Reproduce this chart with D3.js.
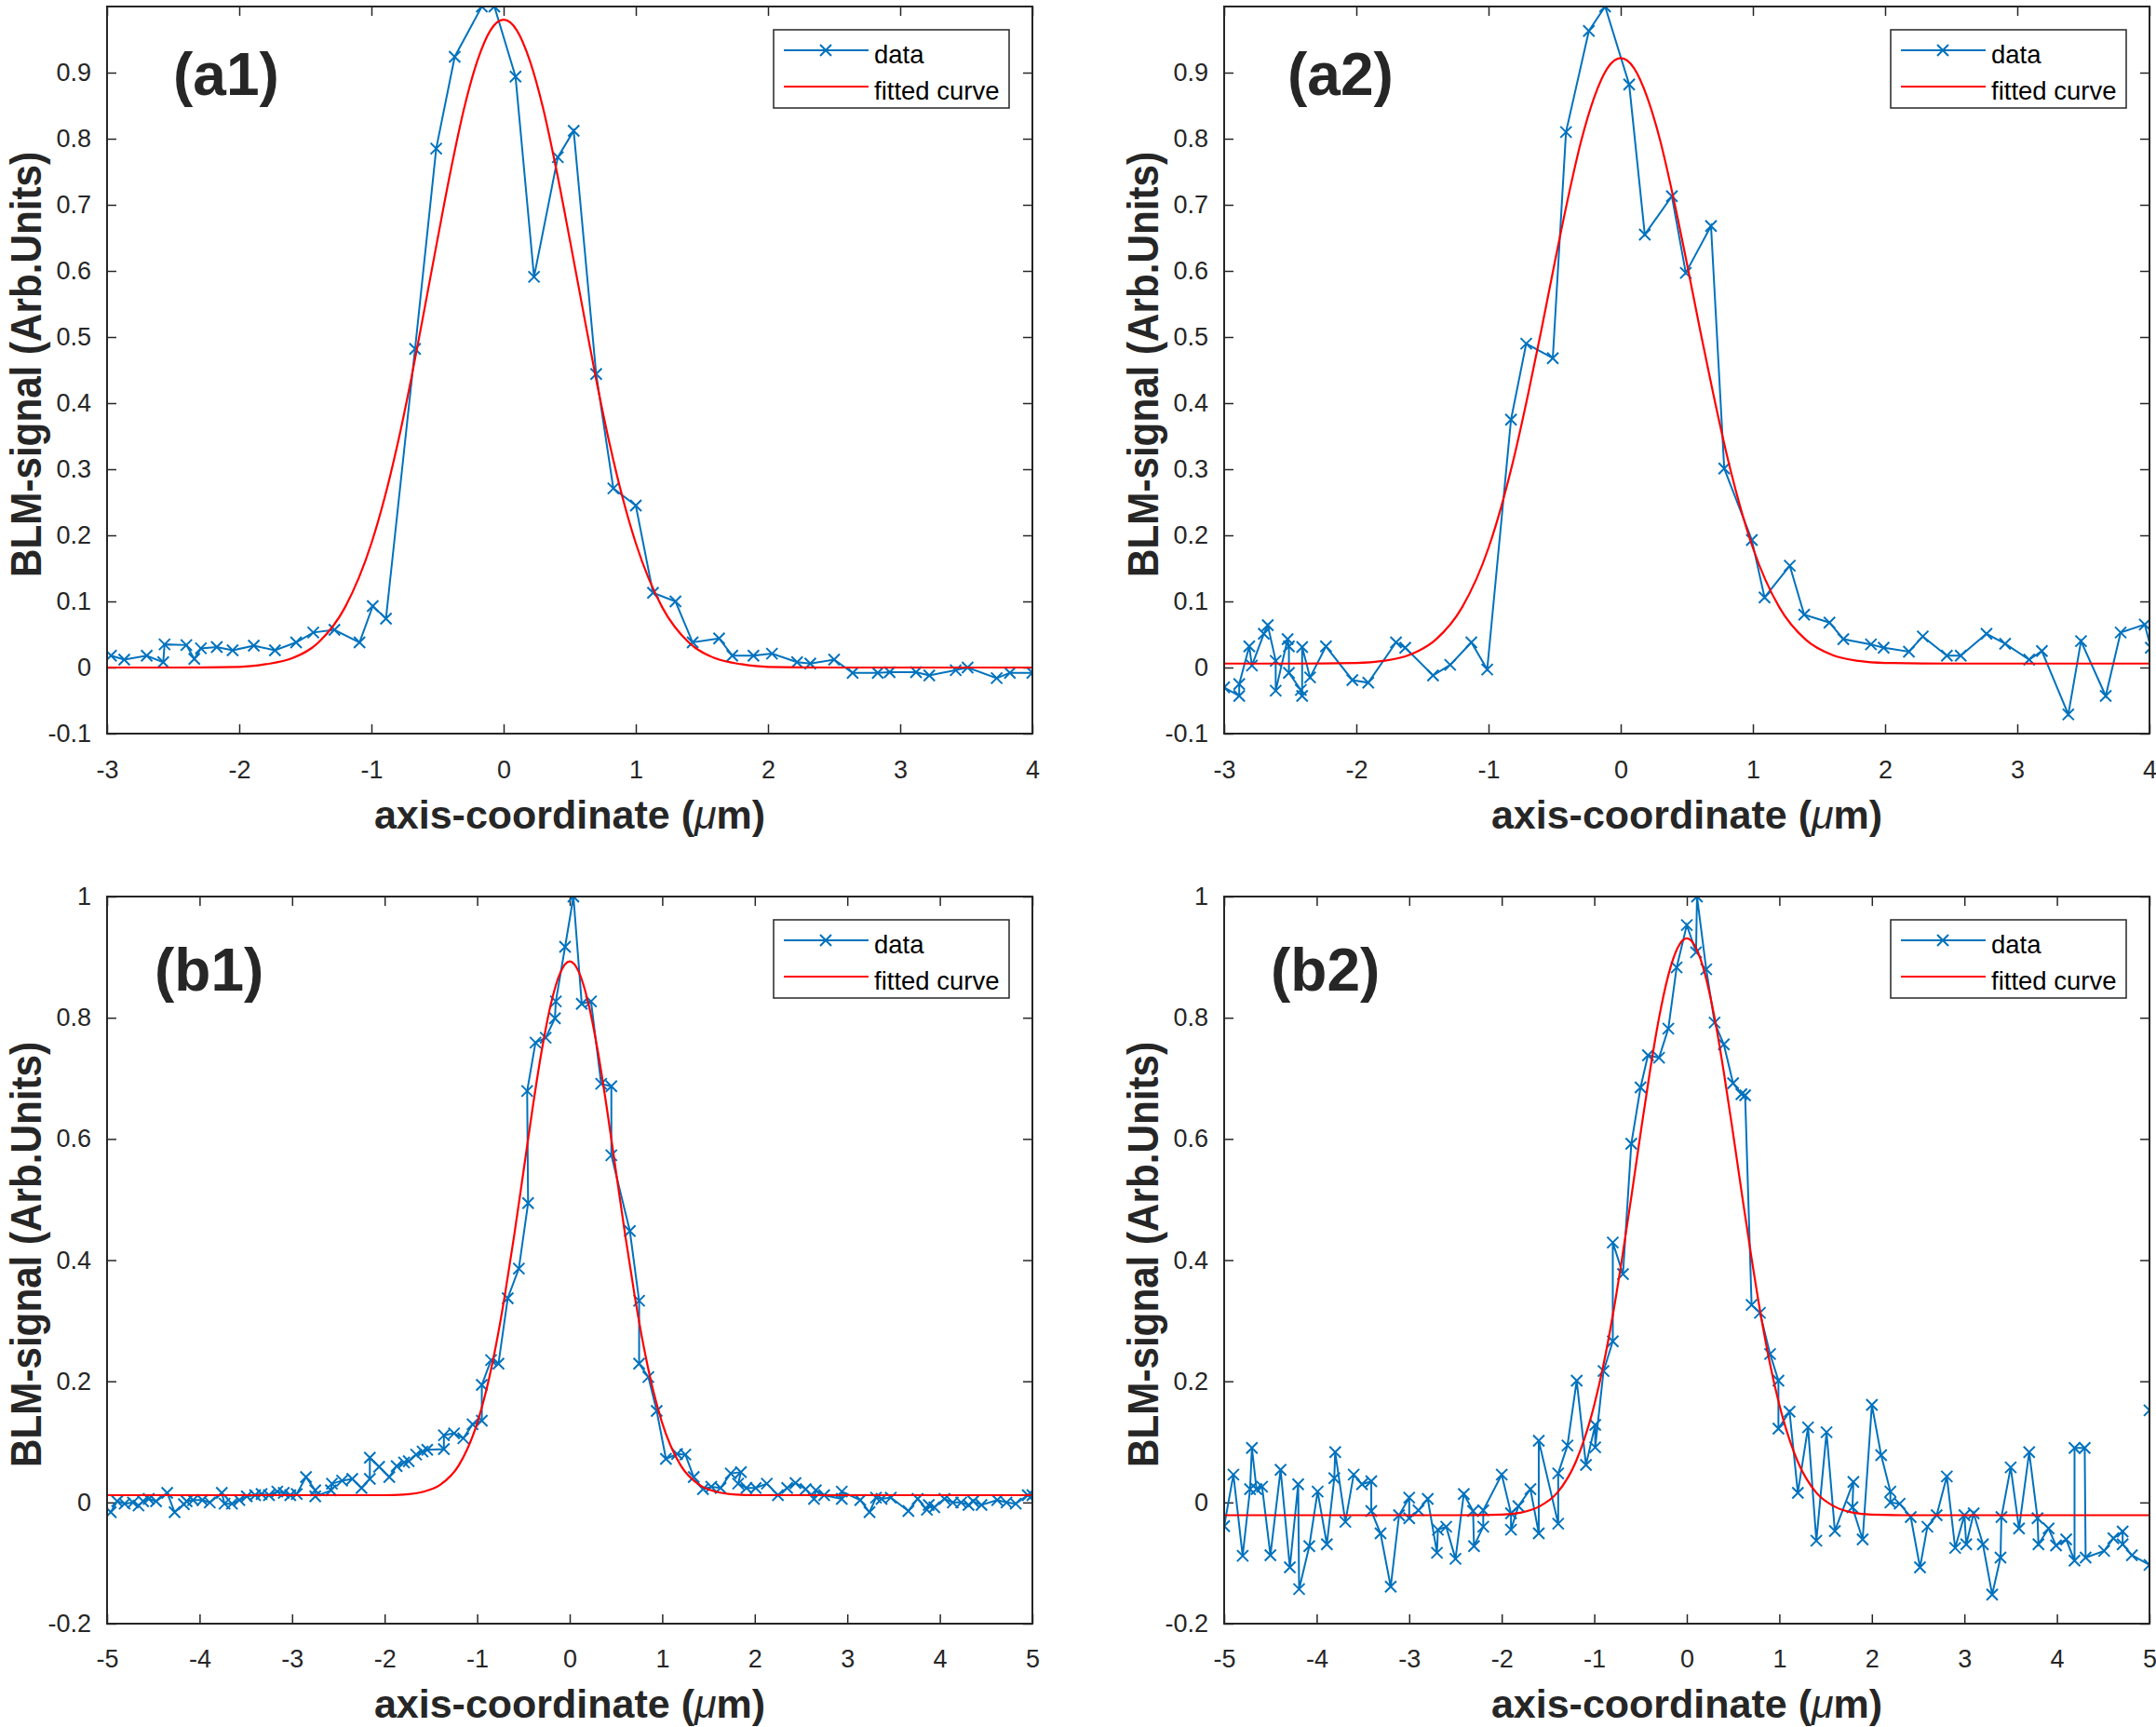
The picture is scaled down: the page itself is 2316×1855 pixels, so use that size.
<!DOCTYPE html>
<html>
<head>
<meta charset="utf-8">
<script src="https://cdn.jsdelivr.net/npm/d3@7"></script>
<style>
  body { margin: 0; background: #fff; }
  svg { display: block; }
</style>
</head>
<body>
<svg id="chart" width="2316" height="1855"></svg>
<script>
// tick values
const topXTicks = [-3, -2, -1, 0, 1, 2, 3, 4];
const topYTicks = [-0.1, 0, 0.1, 0.2, 0.3, 0.4, 0.5, 0.6, 0.7, 0.8, 0.9];
const bottomXTicks = [-5, -4, -3, -2, -1, 0, 1, 2, 3, 4, 5];
const bottomYTicks = [-0.2, 0, 0.2, 0.4, 0.6, 0.8, 1];

// measured profiles [x, signal]
const a1Data = [[-2.97,0.018],[-2.87,0.012],[-2.70,0.018],[-2.575,0.008],[-2.565,0.035],[-2.40,0.034],[-2.34,0.013],[-2.29,0.029],[-2.17,0.031],[-2.05,0.026],[-1.89,0.033],[-1.73,0.026],[-1.57,0.038],[-1.44,0.053],[-1.28,0.057],[-1.09,0.038],[-0.99,0.093],[-0.89,0.074],[-0.67,0.482],[-0.51,0.785],[-0.37,0.924],[-0.165,1.0],[-0.07,1.0],[0.09,0.894],[0.23,0.591],[0.41,0.772],[0.53,0.812],[0.70,0.444],[0.83,0.271],[1.00,0.245],[1.13,0.113],[1.30,0.100],[1.43,0.038],[1.63,0.044],[1.73,0.018],[1.89,0.018],[2.03,0.021],[2.22,0.008],[2.32,0.006],[2.50,0.012],[2.64,-0.008],[2.83,-0.008],[2.92,-0.007],[3.12,-0.007],[3.22,-0.012],[3.42,-0.004],[3.51,0],[3.73,-0.016],[3.83,-0.008],[4.0,-0.008]];

const a2Data = [[-3.0,-0.030],[-2.886,-0.043],[-2.886,-0.025],[-2.81,0.032],[-2.79,0.003],[-2.70,0.051],[-2.67,0.064],[-2.61,0.010],[-2.61,-0.035],[-2.52,0.043],[-2.51,0.032],[-2.51,-0.008],[-2.42,-0.034],[-2.41,-0.043],[-2.41,0.031],[-2.35,-0.015],[-2.23,0.032],[-2.03,-0.019],[-1.91,-0.023],[-1.70,0.038],[-1.63,0.030],[-1.42,-0.012],[-1.29,0.004],[-1.13,0.038],[-1.01,-0.003],[-0.83,0.375],[-0.715,0.490],[-0.514,0.468],[-0.414,0.810],[-0.241,0.963],[-0.118,1.0],[0.064,0.882],[0.182,0.655],[0.387,0.713],[0.492,0.597],[0.683,0.668],[0.783,0.301],[0.992,0.193],[1.088,0.106],[1.279,0.154],[1.388,0.080],[1.579,0.068],[1.684,0.043],[1.893,0.035],[1.989,0.030],[2.18,0.024],[2.285,0.047],[2.467,0.018],[2.572,0.018],[2.767,0.051],[2.908,0.036],[3.09,0.012],[3.186,0.025],[3.386,-0.071],[3.482,0.040],[3.669,-0.043],[3.782,0.053],[3.964,0.065],[4.01,0.030]];

const b1Data = [[-4.96,-0.016],[-4.89,0.002],[-4.81,-0.002],[-4.72,0],[-4.66,-0.005],[-4.61,0.002],[-4.55,0.006],[-4.47,0.002],[-4.35,0.016],[-4.27,-0.016],[-4.17,-0.003],[-4.14,0.002],[-4.07,0.004],[-3.97,0.004],[-3.89,0],[-3.76,0.016],[-3.73,-0.002],[-3.65,-0.002],[-3.57,0.004],[-3.49,0.010],[-3.40,0.012],[-3.33,0.014],[-3.25,0.012],[-3.16,0.018],[-3.09,0.016],[-3.02,0.012],[-2.95,0.014],[-2.85,0.042],[-2.75,0.020],[-2.75,0.010],[-2.58,0.020],[-2.57,0.031],[-2.46,0.036],[-2.35,0.039],[-2.25,0.024],[-2.16,0.039],[-2.16,0.074],[-2.06,0.059],[-1.95,0.042],[-1.87,0.060],[-1.79,0.066],[-1.74,0.068],[-1.66,0.079],[-1.59,0.084],[-1.54,0.087],[-1.36,0.088],[-1.36,0.111],[-1.25,0.114],[-1.15,0.106],[-1.05,0.129],[-0.95,0.135],[-0.95,0.194],[-0.85,0.235],[-0.77,0.229],[-0.67,0.337],[-0.55,0.386],[-0.45,0.494],[-0.46,0.679],[-0.37,0.759],[-0.26,0.767],[-0.16,0.799],[-0.15,0.827],[-0.05,0.917],[0.04,1.0],[0.13,0.823],[0.23,0.827],[0.34,0.691],[0.45,0.687],[0.45,0.573],[0.65,0.448],[0.75,0.333],[0.75,0.229],[0.85,0.207],[0.94,0.151],[1.04,0.072],[1.16,0.080],[1.25,0.079],[1.34,0.042],[1.44,0.022],[1.53,0.026],[1.63,0.024],[1.74,0.048],[1.85,0.050],[1.82,0.031],[1.91,0.024],[2.01,0.024],[2.13,0.031],[2.25,0.012],[2.35,0.024],[2.44,0.032],[2.55,0.022],[2.64,0.006],[2.66,0.020],[2.75,0.012],[2.94,0.006],[2.94,0.018],[3.14,0.004],[3.24,-0.016],[3.31,0.008],[3.37,0.006],[3.47,0.008],[3.66,-0.014],[3.76,0.006],[3.86,-0.012],[3.88,-0.004],[3.94,-0.008],[4.05,0.006],[4.14,0],[4.23,0],[4.31,-0.004],[4.36,0.002],[4.45,-0.004],[4.62,0.004],[4.72,0],[4.82,-0.002],[4.95,0.012],[5.0,0.012]];

const b2Data = [[-5.0,-0.039],[-4.90,0.046],[-4.80,-0.088],[-4.72,0.022],[-4.70,0.090],[-4.65,0.022],[-4.59,0.026],[-4.50,-0.087],[-4.39,0.054],[-4.29,-0.107],[-4.20,0.030],[-4.19,-0.143],[-4.08,-0.072],[-3.99,0.018],[-3.89,-0.069],[-3.81,0.040],[-3.80,0.083],[-3.69,-0.032],[-3.60,0.046],[-3.51,0.030],[-3.41,0.035],[-3.41,-0.014],[-3.31,-0.051],[-3.20,-0.139],[-3.11,-0.021],[-3.00,0.008],[-3.00,-0.026],[-2.90,-0.013],[-2.80,0.006],[-2.70,-0.083],[-2.69,-0.045],[-2.60,-0.040],[-2.50,-0.093],[-2.41,0.014],[-2.31,-0.014],[-2.30,-0.072],[-2.20,-0.040],[-2.20,-0.013],[-2.00,0.046],[-1.90,-0.018],[-1.90,-0.045],[-1.82,-0.006],[-1.69,0.022],[-1.60,-0.051],[-1.60,0.102],[-1.39,-0.035],[-1.39,0.048],[-1.29,0.094],[-1.19,0.201],[-1.09,0.062],[-0.99,0.128],[-0.99,0.091],[-0.90,0.217],[-0.80,0.266],[-0.80,0.429],[-0.69,0.377],[-0.60,0.592],[-0.50,0.685],[-0.42,0.738],[-0.30,0.734],[-0.20,0.782],[-0.11,0.883],[0.0,0.953],[0.10,0.908],[0.11,1.0],[0.21,0.880],[0.30,0.792],[0.40,0.756],[0.50,0.692],[0.59,0.674],[0.63,0.672],[0.70,0.326],[0.79,0.313],[0.90,0.245],[0.99,0.201],[0.99,0.122],[1.11,0.150],[1.20,0.016],[1.31,0.124],[1.40,-0.063],[1.51,0.116],[1.60,-0.047],[1.80,0.034],[1.79,-0.008],[1.90,-0.061],[2.00,0.161],[2.10,0.078],[2.20,0.018],[2.20,0],[2.30,-0.002],[2.42,-0.024],[2.52,-0.107],[2.60,-0.040],[2.70,-0.021],[2.81,0.043],[2.90,-0.075],[3.00,-0.021],[3.02,-0.069],[3.10,-0.018],[3.20,-0.069],[3.30,-0.152],[3.39,-0.091],[3.40,-0.024],[3.50,0.058],[3.59,-0.043],[3.70,0.083],[3.79,-0.026],[3.80,-0.069],[3.91,-0.043],[3.99,-0.071],[4.10,-0.061],[4.19,-0.096],[4.19,0.090],[4.30,0.090],[4.31,-0.091],[4.51,-0.080],[4.61,-0.059],[4.71,-0.048],[4.71,-0.069],[4.81,-0.087],[5.00,-0.103],[5.00,0.152]];

// fitted curves
const fitTopX = [-3,-2.5,-2,-1.8,-1.6,-1.4,-1.2,-1,-0.9,-0.8,-0.7,-0.6,-0.5,-0.4,-0.3,-0.2,-0.1,0,0.1,0.2,0.3,0.4,0.5,0.6,0.7,0.8,0.9,1,1.2,1.4,1.6,1.8,2,2.5,3,3.5,4];
const a1Fit = [0,0,0.001,0.005,0.014,0.038,0.091,0.188,0.257,0.340,0.436,0.541,0.648,0.752,0.845,0.917,0.964,0.980,0.964,0.917,0.845,0.752,0.648,0.541,0.436,0.340,0.257,0.188,0.091,0.038,0.014,0.005,0.001,0,0,0,0];
const a2Fit = [0.006,0.006,0.007,0.010,0.019,0.042,0.091,0.181,0.246,0.324,0.414,0.511,0.612,0.709,0.796,0.863,0.907,0.922,0.907,0.863,0.796,0.709,0.612,0.511,0.414,0.324,0.246,0.181,0.091,0.042,0.019,0.010,0.007,0.006,0.006,0.006,0.006];

const fitBottomX = [-5,-4,-3,-2.5,-2,-1.8,-1.6,-1.4,-1.2,-1,-0.9,-0.8,-0.7,-0.6,-0.5,-0.4,-0.3,-0.2,-0.1,0,0.1,0.2,0.3,0.4,0.5,0.6,0.7,0.8,0.9,1,1.2,1.4,1.6,1.8,2,2.5,3,4,5];
const b1Fit = [0.012,0.012,0.012,0.012,0.012,0.013,0.017,0.029,0.061,0.131,0.186,0.257,0.343,0.441,0.546,0.652,0.748,0.825,0.875,0.893,0.875,0.825,0.748,0.652,0.546,0.441,0.343,0.257,0.186,0.131,0.061,0.029,0.017,0.013,0.012,0.012,0.012,0.012,0.012];
const b2Fit = [-0.021,-0.021,-0.021,-0.021,-0.020,-0.017,-0.007,0.016,0.067,0.161,0.228,0.309,0.403,0.504,0.609,0.710,0.800,0.870,0.915,0.931,0.915,0.870,0.800,0.710,0.609,0.504,0.403,0.309,0.228,0.161,0.067,0.016,-0.007,-0.017,-0.020,-0.021,-0.021,-0.021,-0.021];

const panelNames = ["(a1)", "(a2)", "(b1)", "(b2)"];
const legendNames = ["data", "fitted curve"];

const BLUE = "#0072BD";
const RED = "#FF0000";
const INK = "#262626";
const FONT = "'Liberation Sans', Arial, Helvetica, sans-serif";
const TICK_FONT = 27;

const panels = [
  { name: panelNames[0], data: a1Data, fitX: fitTopX, fit: a1Fit, xTicks: topXTicks, yTicks: topYTicks,
    xDomain: [-3, 4], yDomain: [-0.1, 1], left: 115, top: 7, right: 1109, bottom: 788,
    tagDx: 71, tagDy: 95, tickGap: 48, labelGap: 102, yLabelX: 44 },
  { name: panelNames[1], data: a2Data, fitX: fitTopX, fit: a2Fit, xTicks: topXTicks, yTicks: topYTicks,
    xDomain: [-3, 4], yDomain: [-0.1, 1], left: 1315, top: 7, right: 2309, bottom: 788,
    tagDx: 68, tagDy: 95, tickGap: 48, labelGap: 102, yLabelX: 1244 },
  { name: panelNames[2], data: b1Data, fitX: fitBottomX, fit: b1Fit, xTicks: bottomXTicks, yTicks: bottomYTicks,
    xDomain: [-5, 5], yDomain: [-0.2, 1], left: 115, top: 963, right: 1109, bottom: 1744,
    tagDx: 51, tagDy: 101, tickGap: 47, labelGap: 101, yLabelX: 44 },
  { name: panelNames[3], data: b2Data, fitX: fitBottomX, fit: b2Fit, xTicks: bottomXTicks, yTicks: bottomYTicks,
    xDomain: [-5, 5], yDomain: [-0.2, 1], left: 1315, top: 963, right: 2309, bottom: 1744,
    tagDx: 50, tagDy: 101, tickGap: 47, labelGap: 101, yLabelX: 1244 }
];

const svg = d3.select("#chart");
const fmt = d => String(+d.toFixed(2));
const crossPath = "M-6,-6L6,6M-6,6L6,-6";

function styleAxis(g) {
  g.select(".domain").remove();
  g.selectAll("line").attr("stroke", INK).attr("stroke-width", 1.5);
  g.selectAll("text").attr("fill", INK).attr("font-size", TICK_FONT).attr("font-family", FONT);
}

function drawPanel(p, i) {
  const w = p.right - p.left;
  const h = p.bottom - p.top;
  const x = d3.scaleLinear().domain(p.xDomain).range([0, w]);
  const y = d3.scaleLinear().domain(p.yDomain).range([h, 0]);

  const g = svg.append("g").attr("transform", `translate(${p.left},${p.top})`);

  const clipId = "clip" + i;
  g.append("clipPath").attr("id", clipId)
    .append("rect").attr("width", w).attr("height", h);

  // axes, ticks pointing inward on all four sides
  g.append("g").attr("transform", `translate(0,${h})`)
    .call(d3.axisBottom(x).tickValues(p.xTicks).tickSizeInner(-10).tickSizeOuter(0)
      .tickPadding(p.tickGap - 0.71 * TICK_FONT).tickFormat(fmt))
    .call(styleAxis);
  g.append("g")
    .call(d3.axisLeft(y).tickValues(p.yTicks).tickSizeInner(-10).tickSizeOuter(0)
      .tickPadding(17).tickFormat(fmt))
    .call(styleAxis);
  g.append("g")
    .call(d3.axisTop(x).tickValues(p.xTicks).tickSizeInner(-10).tickSizeOuter(0).tickFormat(""))
    .call(styleAxis);
  g.append("g").attr("transform", `translate(${w},0)`)
    .call(d3.axisRight(y).tickValues(p.yTicks).tickSizeInner(-10).tickSizeOuter(0).tickFormat(""))
    .call(styleAxis);

  const plot = g.append("g").attr("clip-path", `url(#${clipId})`);

  const dataLine = d3.line().x(d => x(d[0])).y(d => y(d[1]));
  plot.append("path").datum(p.data)
    .attr("d", dataLine)
    .attr("fill", "none").attr("stroke", BLUE).attr("stroke-width", 2);
  plot.selectAll("path.mark").data(p.data).enter().append("path")
    .attr("class", "mark")
    .attr("d", crossPath)
    .attr("transform", d => `translate(${x(d[0])},${y(d[1])})`)
    .attr("fill", "none").attr("stroke", BLUE).attr("stroke-width", 2);

  const fitLine = d3.line().x(d => x(d[0])).y(d => y(d[1])).curve(d3.curveMonotoneX);
  plot.append("path").datum(p.fitX.map((v, k) => [v, p.fit[k]]))
    .attr("d", fitLine)
    .attr("fill", "none").attr("stroke", RED).attr("stroke-width", 2.2);

  // frame
  g.append("rect").attr("width", w).attr("height", h)
    .attr("fill", "none").attr("stroke", INK).attr("stroke-width", 2);

  // panel tag
  g.append("text").attr("x", p.tagDx).attr("y", p.tagDy)
    .attr("font-family", FONT).attr("font-weight", "bold").attr("font-size", 64)
    .attr("fill", INK).text(p.name);

  // axis titles
  const xl = g.append("text")
    .attr("x", w / 2).attr("y", h + p.labelGap)
    .attr("text-anchor", "middle")
    .attr("font-family", FONT).attr("font-weight", "bold").attr("font-size", 43)
    .attr("fill", INK);
  xl.append("tspan").text("axis-coordinate (");
  xl.append("tspan").attr("font-style", "italic").attr("font-weight", "normal").text("\u03bc");
  xl.append("tspan").text("m)");

  svg.append("text")
    .attr("transform", `translate(${p.yLabelX},${p.top + h / 2 - 6}) rotate(-90)`)
    .attr("text-anchor", "middle")
    .attr("font-family", FONT).attr("font-weight", "bold").attr("font-size", 46)
    .attr("textLength", 457).attr("lengthAdjust", "spacingAndGlyphs")
    .attr("fill", INK)
    .text("BLM-signal (Arb.Units)");

  // legend
  const lg = g.append("g").attr("transform", `translate(${w - 278},25)`);
  lg.append("rect").attr("width", 253).attr("height", 84)
    .attr("fill", "#fff").attr("stroke", INK).attr("stroke-width", 1.5);
  lg.append("line").attr("x1", 11).attr("x2", 102).attr("y1", 22).attr("y2", 22)
    .attr("stroke", BLUE).attr("stroke-width", 2);
  lg.append("path").attr("d", crossPath).attr("transform", "translate(56,22)")
    .attr("fill", "none").attr("stroke", BLUE).attr("stroke-width", 2);
  lg.append("line").attr("x1", 11).attr("x2", 102).attr("y1", 61).attr("y2", 61)
    .attr("stroke", RED).attr("stroke-width", 2.2);
  lg.selectAll("text.lab").data(legendNames).enter().append("text")
    .attr("class", "lab")
    .attr("x", 108).attr("y", (d, k) => 36 + k * 39)
    .attr("font-family", FONT).attr("font-size", 27.5).attr("fill", "#000")
    .text(d => d);
}

panels.forEach(drawPanel);
</script>
</body>
</html>
